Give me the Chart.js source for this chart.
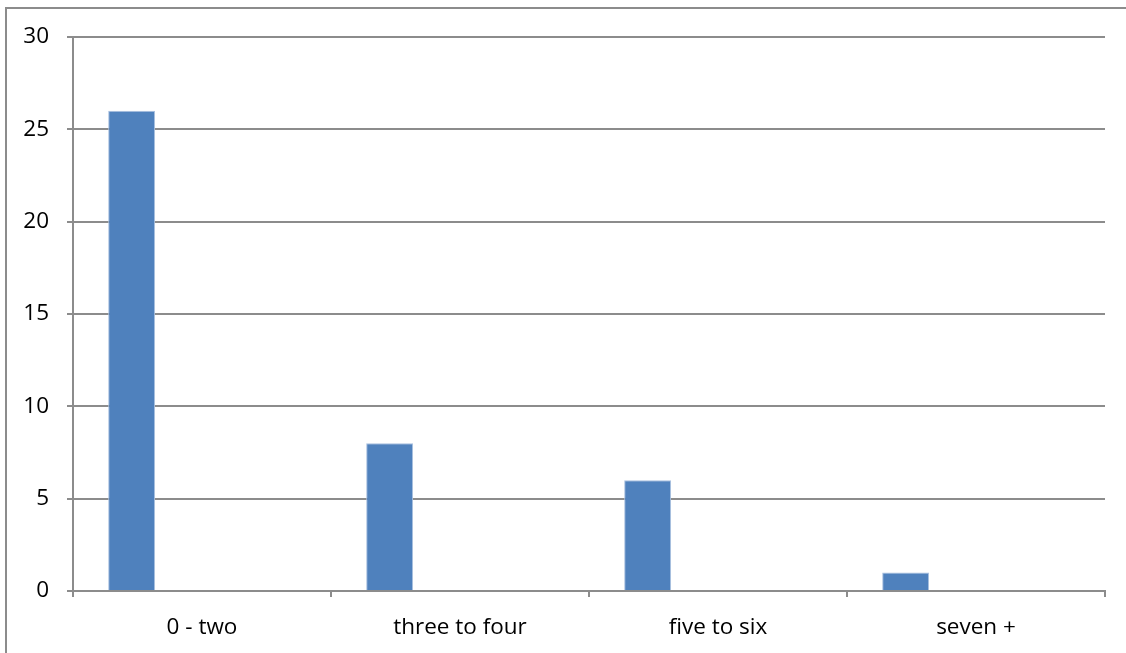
<!DOCTYPE html>
<html>
<head>
<meta charset="utf-8">
<script src="https://cdn.jsdelivr.net/npm/chart.js@4.4.1/dist/chart.umd.min.js"></script>
<style>
  html, body { margin: 0; padding: 0; background: #ffffff; }
  #wrap { width: 1126px; height: 653px; position: relative; }
</style>
</head>
<body>
<div id="wrap"><canvas id="c" width="1126" height="653"></canvas></div>
<script>
// Categories and counts
const categories = ['0 - two', 'three to four', 'five to six', 'seven +'];
const counts = [26, 8, 6, 1];
const yTicks = [0, 5, 10, 15, 20, 25, 30];

const GRID = '#8c8c8c';
const FONT = { family: '"Open Sans", "Liberation Sans", sans-serif', size: 22.5 };

// Outer frame of the chart box
const framePlugin = {
  id: 'frame',
  beforeDraw(chart) {
    const ctx = chart.ctx;
    ctx.save();
    ctx.fillStyle = '#ffffff';
    ctx.fillRect(0, 0, chart.width, chart.height);
    ctx.strokeStyle = GRID;
    ctx.lineWidth = 2;
    ctx.strokeRect(6, 8, chart.width + 10, chart.height + 10);
    ctx.restore();
  }
};

new Chart(document.getElementById('c'), {
  type: 'bar',
  data: {
    labels: categories,
    datasets: [
      { label: 'Count', data: counts, backgroundColor: '#4F81BD', borderColor: '#a9c0e0', borderWidth: 1 },
      { label: 'b', data: [] },
      { label: 'c', data: [] },
      { label: 'd', data: [] }
    ]
  },
  options: {
    responsive: false,
    animation: false,
    devicePixelRatio: 1,
    layout: { padding: { left: 0, right: 21, top: 37, bottom: 0 } },
    datasets: { bar: { categoryPercentage: 4 / 5.5, barPercentage: 1 } },
    plugins: { legend: { display: false }, tooltip: { enabled: false } },
    scales: {
      x: {
        offset: true,
        grid: { offset: true, drawOnChartArea: false, drawTicks: true, tickLength: 6, color: GRID, lineWidth: 2 },
        border: { color: GRID, width: 2 },
        ticks: { color: '#000000', font: FONT, padding: 17, maxRotation: 0 },
        afterFit(scale) { scale.height = 62; }
      },
      y: {
        min: 0, max: 30,
        afterBuildTicks(scale) { scale.ticks = yTicks.map(v => ({ value: v })); },
        grid: { color: GRID, lineWidth: 2, tickLength: 6 },
        border: { color: GRID, width: 2 },
        ticks: { color: '#000000', font: FONT, padding: 18 },
        afterFit(scale) { scale.width = 73; }
      }
    }
  },
  plugins: [framePlugin]
});
</script>
</body>
</html>
